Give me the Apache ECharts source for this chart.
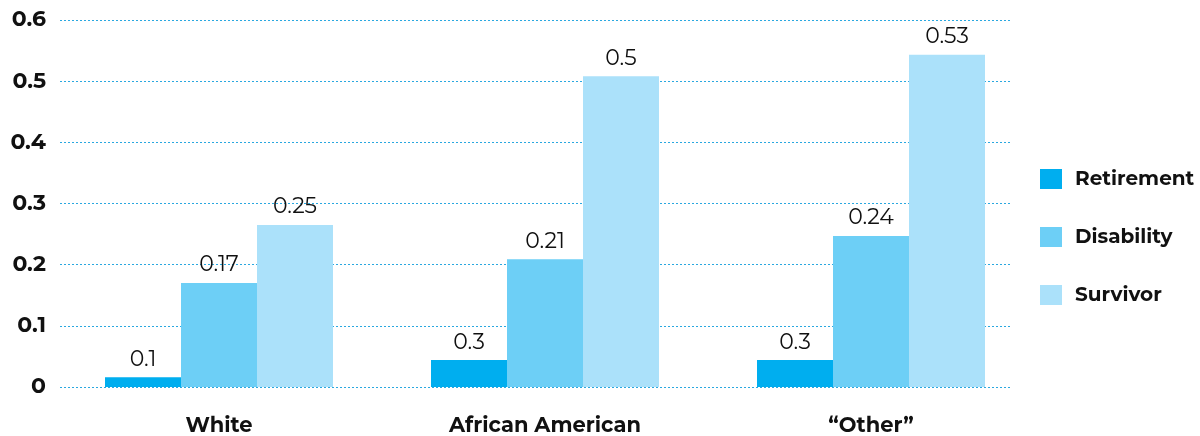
<!DOCTYPE html>
<html>
<head>
<meta charset="utf-8">
<script src="https://cdn.jsdelivr.net/npm/echarts@6/dist/echarts.min.js"></script>
<style>
  html, body { margin: 0; padding: 0; background: #fff; }
  #chart { width: 1200px; height: 436px; }
</style>
</head>
<body>
<div id="chart"></div>
<script>
// categories and series (bar heights)
var categories = ["White", "African American", "\u201cOther\u201d"];
var retirement = [0.016, 0.044, 0.044];
var disability = [0.170, 0.209, 0.247];
var survivor = [0.265, 0.508, 0.543];
// printed labels above each bar (as shown in the original)
var retirementText = ["0.1", "0.3", "0.3"];
var disabilityText = ["0.17", "0.21", "0.24"];
var survivorText = ["0.25", "0.5", "0.53"];
var yTicks = [0, 0.1, 0.2, 0.3, 0.4, 0.5, 0.6];

var fontFam = "Montserrat, 'Open Sans', 'DejaVu Sans', sans-serif";

function makeSeries(name, values, texts, color) {
  return {
    name: name,
    type: "bar",
    xAxisIndex: 1,
    yAxisIndex: 1,
    barWidth: 76,
    barGap: "0%",
    itemStyle: { color: color },
    label: {
      show: true,
      position: "top",
      distance: 7,
      color: "#111",
      fontSize: 22,
      fontFamily: fontFam,
      formatter: function (p) {
        return texts[p.dataIndex];
      }
    },
    data: values
  };
}

var yMin = yTicks[0];
var yMax = yTicks[yTicks.length - 1];

var chart = echarts.init(document.getElementById("chart"));
var option = {
  animation: false,
  // grid 0: gridlines + y labels, grid 1: the bars
  grid: [
    { left: 60, right: 188, top: 20, bottom: 49 },
    { left: 56, right: 166, top: 20, bottom: 49 }
  ],
  legend: {
    orient: "vertical",
    left: 1035,
    top: 164,
    itemWidth: 22,
    itemHeight: 20,
    itemGap: 38,
    icon: "rect",
    textStyle: {
      fontSize: 20,
      fontWeight: "bold",
      color: "#111",
      fontFamily: fontFam,
      padding: [0, 0, 0, 8]
    },
    data: ["Retirement", "Disability", "Survivor"]
  },
  xAxis: [
    {
      gridIndex: 0,
      type: "category",
      data: categories,
      show: false
    },
    {
      gridIndex: 1,
      type: "category",
      data: categories,
      axisLine: { show: false },
      axisTick: { show: false },
      axisLabel: {
        margin: 28,
        fontSize: 21,
        fontWeight: "bold",
        color: "#111",
        fontFamily: fontFam
      }
    }
  ],
  yAxis: [
    {
      gridIndex: 0,
      type: "value",
      min: yMin,
      max: yMax,
      interval: 0.1,
      axisLine: { show: false },
      axisTick: { show: false },
      axisLabel: {
        margin: 14,
        fontSize: 22,
        fontWeight: "bold",
        color: "#111",
        fontFamily: fontFam
      },
      splitLine: {
        lineStyle: { color: "#2aa8e0", type: [2, 2], width: 1 }
      }
    },
    {
      gridIndex: 1,
      type: "value",
      min: yMin,
      max: yMax,
      interval: 0.1,
      show: false,
      splitLine: { show: false }
    }
  ],
  series: [
    makeSeries("Retirement", retirement, retirementText, "#00aeef"),
    makeSeries("Disability", disability, disabilityText, "#6dcff6"),
    makeSeries("Survivor", survivor, survivorText, "#abe1fa")
  ]
};
chart.setOption(option);
</script>
</body>
</html>
